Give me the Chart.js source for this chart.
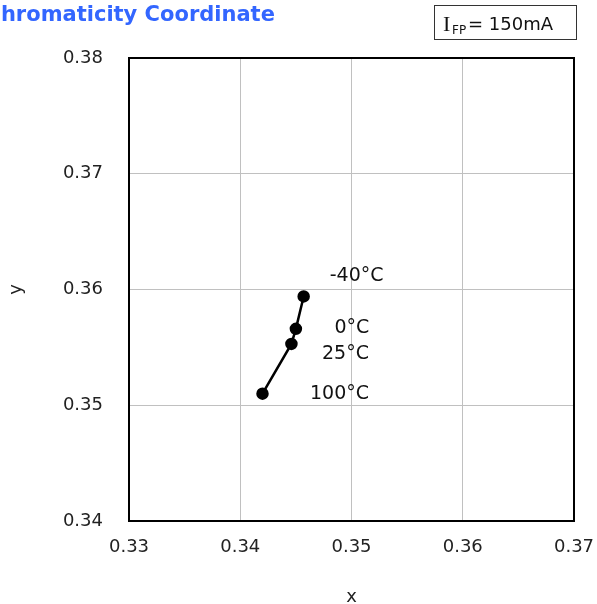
<!DOCTYPE html>
<html>
<head>
<meta charset="utf-8">
<script src="https://cdn.jsdelivr.net/npm/chart.js@4.4.0/dist/chart.umd.min.js"></script>
<style>
  html, body { margin: 0; padding: 0; background: #fff; }
  #wrap { width: 597px; height: 604px; }
</style>
</head>
<body>
<div id="wrap"><canvas id="chartCie"></canvas></div>
<script>
// temperature points
var temps = ['-40°C', '0°C', '25°C', '100°C'];
var xValues = [0.3457, 0.3450, 0.3446, 0.3420];
var yValues = [0.3594, 0.3566, 0.3553, 0.3510];
var xTicks = [0.33, 0.34, 0.35, 0.36, 0.37];
var yTicks = [0.34, 0.35, 0.36, 0.37, 0.38];

// label offset from its point (px)
var labelOffsets = [[53, -20], [56, -1], [54, 10], [77, 0]];

var points = xValues.map(function (x, i) {
    return { x: x, y: yValues[i] };
});

var frame = {
    id: 'frame',
    beforeDraw: function (chart) {
        var ctx = chart.ctx;
        ctx.save();
        ctx.fillStyle = '#fff';
        ctx.fillRect(0, 0, chart.width, chart.height);
        ctx.restore();
    },
    afterDatasetsDraw: function (chart) {
        var ctx = chart.ctx;
        var a = chart.chartArea;
        ctx.save();
        ctx.strokeStyle = '#000';
        ctx.lineWidth = 2;
        ctx.strokeRect(a.left, a.top, a.right - a.left, a.bottom - a.top);

        // point labels
        var meta = chart.getDatasetMeta(0);
        ctx.fillStyle = '#111';
        ctx.font = '19px "DejaVu Sans"';
        ctx.textAlign = 'center';
        ctx.textBaseline = 'middle';
        meta.data.forEach(function (p, i) {
            ctx.fillText(temps[i], p.x + labelOffsets[i][0], p.y + labelOffsets[i][1]);
        });

        // title (cut at left edge like the source)
        ctx.fillStyle = '#3366ff';
        ctx.font = 'bold 21px "DejaVu Sans"';
        ctx.textAlign = 'left';
        ctx.textBaseline = 'alphabetic';
        ctx.fillText('Chromaticity Coordinate', -14.5, 21);

        // condition box
        ctx.fillStyle = '#fff';
        ctx.fillRect(434, 5, 142, 34);
        ctx.strokeStyle = '#333';
        ctx.lineWidth = 1;
        ctx.strokeRect(434.5, 5.5, 142, 34);
        ctx.fillStyle = '#111';
        ctx.font = '22px "Liberation Serif"';
        ctx.fillText('I', 443, 31);
        ctx.font = '12px "DejaVu Sans"';
        ctx.fillText('FP', 452, 34);
        ctx.font = '18px "DejaVu Sans"';
        ctx.fillText('= 150mA', 468, 30);
        ctx.restore();
    }
};

new Chart(document.getElementById('chartCie'), {
    type: 'scatter',
    data: {
        datasets: [{
            label: 'CIE',
            data: points,
            showLine: true,
            borderColor: '#000',
            backgroundColor: '#000',
            borderWidth: 2.5,
            pointRadius: 5,
            pointHoverRadius: 5
        }]
    },
    options: {
        responsive: true,
        maintainAspectRatio: false,
        animation: false,
        layout: { padding: { top: 58, right: 23, left: 0, bottom: 0 } },
        plugins: {
            legend: { display: false },
            tooltip: { enabled: false }
        },
        scales: {
            x: {
                type: 'linear',
                min: 0.33,
                max: 0.37,
                afterBuildTicks: function (s) {
                    s.ticks = xTicks.map(function (v) { return { value: v }; });
                },
                afterFit: function (s) {
                    s.height = 83;
                    s.paddingLeft = 0;
                    s.paddingRight = 0;
                },
                grid: { color: '#c0c0c0', lineWidth: 1, drawTicks: false },
                border: { display: false },
                ticks: {
                    padding: 16,
                    color: '#222',
                    font: { family: 'DejaVu Sans', size: 18 },
                    callback: function (v) { return v.toFixed(2); }
                },
                title: {
                    display: true,
                    text: 'x',
                    color: '#222',
                    font: { family: 'DejaVu Sans', size: 18 },
                    padding: { top: -4, bottom: -4 }
                }
            },
            y: {
                type: 'linear',
                min: 0.34,
                max: 0.38,
                afterBuildTicks: function (s) {
                    s.ticks = yTicks.map(function (v) { return { value: v }; });
                },
                afterFit: function (s) {
                    s.width = 129;
                    s.paddingTop = 0;
                    s.paddingBottom = 0;
                },
                grid: { color: '#c0c0c0', lineWidth: 1, drawTicks: false },
                border: { display: false },
                ticks: {
                    padding: 26,
                    color: '#222',
                    font: { family: 'DejaVu Sans', size: 18 },
                    callback: function (v) { return v.toFixed(2); }
                },
                title: {
                    display: true,
                    text: 'y',
                    color: '#222',
                    font: { family: 'DejaVu Sans', size: 18 },
                    padding: { top: 6, bottom: 6 }
                }
            }
        }
    },
    plugins: [frame]
});
</script>
</body>
</html>
